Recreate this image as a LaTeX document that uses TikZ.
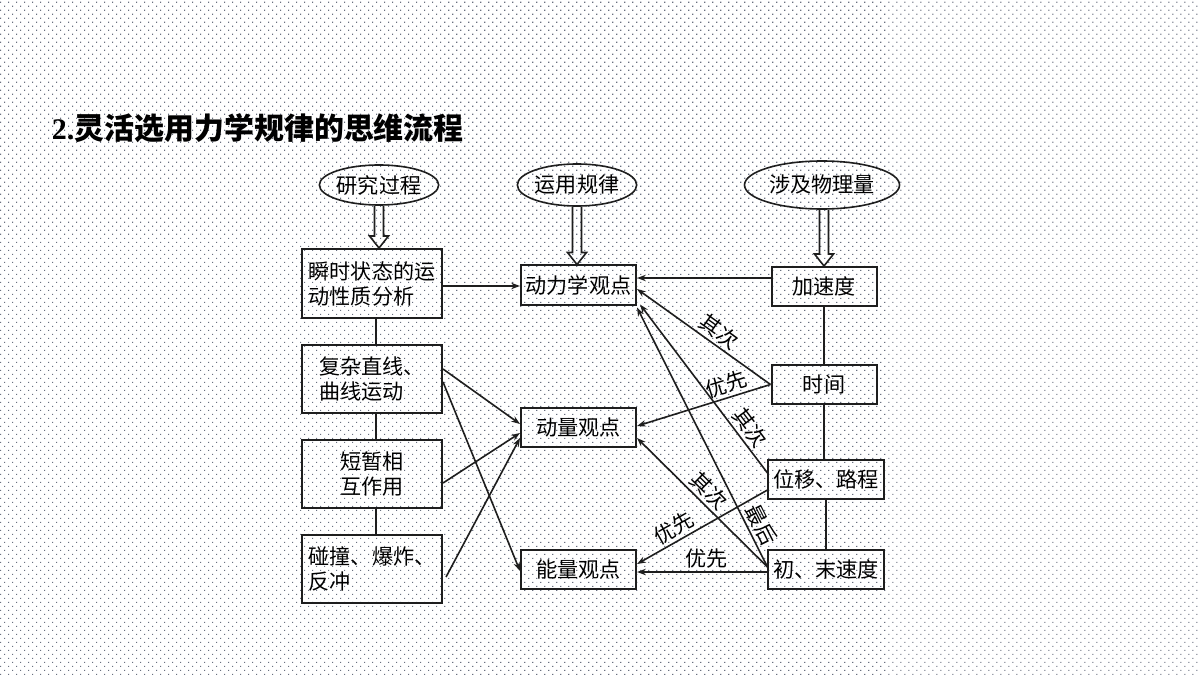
\documentclass[tikz,border=0pt]{standalone}
\usepackage{fontspec}
\setmainfont{Noto Sans CJK SC}
\newfontfamily\latserif{Liberation Serif}
\usetikzlibrary{shapes.geometric,arrows.meta,calc,patterns}
\pgfdeclarepatternformonly{bgdots}{\pgfqpoint{-1pt}{-1pt}}{\pgfqpoint{6.69pt}{6.69pt}}{\pgfqpoint{5.6906pt}{5.6906pt}}{%
  \pgfpathrectangle{\pgfqpoint{0pt}{0pt}}{\pgfqpoint{0.8pt}{0.8pt}}%
  \pgfpathrectangle{\pgfqpoint{2.8453pt}{2.8453pt}}{\pgfqpoint{0.8pt}{0.8pt}}%
  \pgfusepath{fill}}
\definecolor{dotc}{RGB}{105,112,128}
\definecolor{ink}{RGB}{30,30,30}
\newcommand\hollowdarrow[2]{%
  \draw[draw=ink, line width=0.04cm, line join=miter]
    ($(#1)+(-4.5,0)$) -- ($(#2)+(-4.5,-12)$) -- ($(#2)+(-9.5,-12)$) -- (#2)
    -- ($(#2)+(9.5,-12)$) -- ($(#2)+(4.5,-12)$) -- ($(#1)+(4.5,0)$);}
\begin{document}
\begin{tikzpicture}[x=0.025cm,y=-0.025cm,
  txt/.style={font=\fontsize{15}{17.8}\selectfont},
  box/.style={txt, draw=ink, line width=0.05cm, inner sep=0pt},
  oval/.style={txt, ellipse, draw=ink, line width=0.04cm, inner sep=0pt},
  arr/.style={draw=ink, line width=0.04cm, -{Stealth[length=0.22cm,width=0.16cm]}},
  lnk/.style={draw=ink, line width=0.045cm},
  lbl/.style={txt, sloped, above, inner sep=2pt}]
\fill[white] (0,0) rectangle (1200,675);
\fill[pattern=bgdots, pattern color=dotc] (0,0) rectangle (1200,675);
\useasboundingbox (0,0) rectangle (1200,675);

\node[anchor=west, font=\fontsize{21.3}{25}\selectfont\bfseries] (title) at (47,128) {{\latserif 2.}灵活选用力学规律的思维流程};

% ellipses
\node[oval, minimum width=2.7cm, minimum height=1.0cm] (E1) at (379,185) {研究过程};
\node[oval, minimum width=2.775cm, minimum height=1.05cm] (E2) at (577,185) {运用规律};
\node[oval, minimum width=3.875cm, minimum height=1.2cm] (E3) at (822,185) {涉及物理量};

% left column
\node[box, minimum width=3.5cm, minimum height=1.725cm, align=left] (B1) at (372,283.5) {瞬时状态的运\\动性质分析};
\node[box, minimum width=3.5cm, minimum height=1.7cm, align=left] (B2) at (372,379) {复杂直线、\\曲线运动};
\node[box, minimum width=3.5cm, minimum height=1.7cm, align=center] (B3) at (372,474) {短暂相\\互作用};
\node[box, minimum width=3.5cm, minimum height=1.7cm, align=left] (B4) at (372,569) {碰撞、爆炸、\\反冲};

% middle column
\node[box, minimum width=2.875cm, minimum height=0.975cm] (M1) at (578.5,285) {动力学观点};
\node[box, minimum width=2.875cm, minimum height=0.975cm] (M2) at (578.5,427.5) {动量观点};
\node[box, minimum width=2.875cm, minimum height=0.975cm] (M3) at (578.5,569.5) {能量观点};

% right column
\node[box, minimum width=2.625cm, minimum height=0.975cm] (R1) at (824,286.5) {加速度};
\node[box, minimum width=2.625cm, minimum height=0.975cm] (R2) at (824,384.5) {时间};
\node[box, minimum width=2.875cm, minimum height=0.975cm] (R3) at (826,479.5) {位移、路程};
\node[box, minimum width=2.875cm, minimum height=0.975cm] (R4) at (826,569.5) {初、末速度};

% hollow double arrows
\coordinate (t1) at (E1.south |- B1.north);
\coordinate (t2) at (E2.south |- M1.north);
\coordinate (t3) at (R1.north);
\coordinate (s3) at (R1.north |- E3.south);
\hollowdarrow{E1.south}{t1}
\hollowdarrow{E2.south}{t2}
\hollowdarrow{s3}{t3}

% column links
\draw[lnk] ([xshift=0.1cm]B1.south) -- ([xshift=0.1cm]B2.north);
\draw[lnk] ([xshift=0.1cm]B2.south) -- ([xshift=0.1cm]B3.north);
\draw[lnk] ([xshift=0.1cm]B3.south) -- ([xshift=0.1cm]B4.north);
\draw[lnk] (R1.south) -- (R2.north);
\draw[lnk] (R2.south) -- (R2.south |- R3.north);
\draw[lnk] (R3.south) -- (R4.north);

% left arrows
\draw[arr] (B1.east |- 0,286) -- (M1.west |- 0,286);
\draw[arr] (B2.east |- 0,369) -- (M2.west |- 0,424);
\draw[arr] (B2.east |- 0,382) -- (M3.west |- 0,571);
\draw[arr] (B3.east |- 0,483) -- (M2.west |- 0,433);
\draw[arr] ([xshift=0.075cm]B4.east |- 0,577) -- (M2.west |- 0,438);

% right arrows
\draw[arr] (R1.west |- 0,278) -- (M1.east |- 0,278);
\draw[arr] (R2.west) -- node[lbl, pos=0.44] {其次} (M1.east |- 0,289);
\draw[arr] (R2.west) -- node[lbl, pos=0.30] {优先} (M2.east |- 0,426);
\draw[arr] (R3.west |- 0,473) -- node[lbl, pos=0.22] {其次} ([xshift=0.075cm,yshift=0.025cm]M1.south east);
\draw[arr] (R4.west |- 0,567) -- node[lbl, pos=0.14] {最后} ([yshift=-0.05cm]M1.south east);
\draw[arr] (R4.west |- 0,567) -- node[lbl, pos=0.52] {其次} (M2.east |- 0,438);
\draw[arr] (R3.west |- 0,490) -- node[lbl, pos=0.67] {优先} (M3.east |- 0,564);
\draw[arr] (R4.west |- 0,572) -- node[lbl, pos=0.47] {优先} (M3.east |- 0,572);
\end{tikzpicture}
\end{document}
